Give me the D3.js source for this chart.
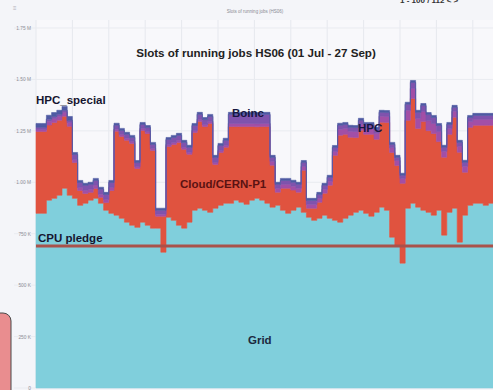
<!DOCTYPE html>
<html>
<head>
<meta charset="utf-8">
<script src="https://cdn.jsdelivr.net/npm/d3@7"></script>
<style>
  html, body { margin: 0; padding: 0; background: #f4f5f9; }
  svg { display: block; font-family: "Liberation Sans", Arial, sans-serif; }
</style>
</head>
<body>
<svg id="chart" width="493" height="390"></svg>
<script>
// Daily slots of running jobs, in thousands of HS06 (01 Jul onwards)
const days = d3.range(88);

const grid = [849, 849, 913, 922, 937, 971, 937, 922, 888, 898,
              913, 922, 898, 864, 849, 840, 825, 806, 791, 781,
              806, 791, 777, 777, 660, 830, 815, 791, 777, 806,
              864, 874, 864, 854, 874, 888, 898, 898, 913, 903,
              893, 913, 922, 913, 898, 879, 888, 864, 849, 864,
              879, 854, 830, 815, 825, 840, 825, 815, 806, 825,
              840, 854, 864, 849, 835, 854, 879, 864, 733, 694,
              607, 874, 898, 879, 864, 854, 840, 864, 743, 854,
              874, 709, 840, 888, 898, 898, 888, 898];

const cloud = [398, 398, 365, 369, 365, 350, 335, 174, 72, 48,
               38, 48, 29, 38, 111, 408, 398, 398, 398, 286,
               446, 446, 378, 58, 175, 344, 369, 403, 383, 330,
               378, 422, 407, 432, 213, 257, 272, 373, 358, 368,
               378, 358, 348, 358, 373, 204, 64, 107, 122, 98,
               73, 204, 44, 59, 78, 107, 161, 316, 423, 408,
               379, 364, 389, 384, 398, 355, 413, 427, 412, 388,
               388, 427, 509, 383, 431, 397, 397, 334, 379, 379,
               442, 437, 209, 379, 379, 379, 389, 379];

const hpc = [10, 10, 19, 19, 19, 19, 19, 15, 15, 15,
             15, 15, 15, 15, 15, 10, 10, 10, 10, 10,
             10, 10, 10, 10, 10, 10, 10, 10, 10, 10,
             10, 10, 10, 10, 10, 10, 10, 15, 15, 15,
             15, 15, 15, 15, 15, 19, 19, 19, 19, 19,
             19, 19, 19, 19, 19, 19, 19, 19, 29, 29,
             29, 29, 29, 29, 29, 29, 29, 29, 24, 24,
             24, 49, 49, 49, 49, 49, 49, 49, 29, 29,
             29, 29, 29, 29, 29, 29, 29, 29];

const boinc = [10, 10, 10, 10, 10, 10, 10, 24, 24, 24,
               24, 24, 24, 24, 24, 19, 19, 19, 19, 19,
               19, 19, 19, 19, 19, 24, 24, 24, 24, 24,
               24, 24, 24, 24, 24, 24, 24, 44, 44, 44,
               44, 44, 44, 44, 44, 19, 19, 19, 19, 19,
               19, 19, 19, 19, 19, 19, 19, 19, 19, 19,
               19, 19, 19, 19, 19, 19, 19, 19, 15, 15,
               15, 29, 29, 29, 29, 29, 29, 29, 19, 19,
               19, 19, 19, 19, 19, 19, 19, 19];

const hpcSpecial = [19, 19, 19, 19, 19, 19, 19, 10, 10, 10,
                    10, 10, 10, 10, 10, 10, 10, 10, 10, 10,
                    10, 10, 10, 10, 10, 10, 10, 10, 10, 10,
                    10, 10, 10, 10, 10, 10, 10, 10, 10, 10,
                    10, 10, 10, 10, 10, 10, 10, 10, 10, 10,
                    10, 10, 10, 10, 10, 10, 10, 10, 10, 10,
                    10, 10, 10, 10, 10, 10, 10, 10, 10, 10,
                    10, 10, 10, 10, 10, 10, 10, 10, 10, 10,
                    10, 10, 10, 10, 10, 10, 10, 10];

const cpuPledge = 690;

const seriesKeys = ["grid", "cloud", "hpc", "boinc", "hpcSpecial"];
const seriesColors = ["#80cfdc", "#e0533f", "#a24fa6", "#7f53ad", "#4f5aa3"];

const tickValues = [0, 250, 500, 750, 1000, 1250, 1500, 1750];
const tickLabels = ["0", "250 K", "500 K", "750 K", "1.00 M", "1.25 M", "1.50 M", "1.75 M"];

const svg = d3.select("#chart");
const W = 493, H = 390;
const plotLeft = 36, plotBottom = 388, plotTop = 20;

const x = d3.scaleLinear().domain([0, days.length]).range([plotLeft, 493.6]);
const y = d3.scaleLinear().domain([0, 1750]).range([plotBottom, 28]);

// page and plot backgrounds
svg.append("rect").attr("width", W).attr("height", H).attr("fill", "#f4f5f9");
svg.append("rect").attr("x", plotLeft).attr("y", plotTop)
  .attr("width", W - plotLeft).attr("height", plotBottom - plotTop)
  .attr("fill", "#f8f8fb");

// vertical guide lines, one per week
svg.append("g").selectAll("line")
  .data(d3.range(0, days.length + 1, 7))
  .join("line")
  .attr("x1", d => x(d)).attr("x2", d => x(d))
  .attr("y1", plotTop).attr("y2", plotBottom)
  .attr("stroke", "#e6e8ee").attr("stroke-width", 1);

// horizontal guide lines
svg.append("g").selectAll("line")
  .data(tickValues)
  .join("line")
  .attr("x1", 14).attr("x2", W)
  .attr("y1", d => y(d)).attr("y2", d => y(d))
  .attr("stroke", "#e9ebf0").attr("stroke-width", 1);

// header strip
svg.append("text").attr("x", 255).attr("y", 13).attr("text-anchor", "middle")
  .attr("font-size", 4.5).attr("fill", "#8a8a92")
  .text("Slots of running jobs (HS06)");
svg.append("text").attr("x", 13).attr("y", 10)
  .attr("font-size", 6).attr("fill", "#b0b0b8").text("≡");
svg.append("text").attr("x", 400).attr("y", 3)
  .attr("font-size", 8).attr("font-weight", "bold").attr("fill", "#333")
  .text("1 - 100 / 112  <  >");

// stacked step areas
const rows = days.map(i => ({
  day: i,
  grid: grid[i], cloud: cloud[i], hpc: hpc[i], boinc: boinc[i], hpcSpecial: hpcSpecial[i]
}));
// closing row so the last day spans its full width
rows.push(Object.assign({}, rows[rows.length - 1], { day: days.length }));

const stacked = d3.stack().keys(seriesKeys)(rows);
const area = d3.area()
  .curve(d3.curveStepAfter)
  .x(d => x(d.data.day))
  .y0(d => y(d[0]))
  .y1(d => y(d[1]));

svg.append("g").selectAll("path")
  .data(stacked)
  .join("path")
  .attr("d", area)
  .attr("fill", (d, i) => seriesColors[i])
  .attr("stroke", (d, i) => seriesColors[i])
  .attr("stroke-width", 0.6)
  .attr("stroke-linejoin", "miter");

// pledge line
svg.append("line")
  .attr("x1", plotLeft).attr("x2", W)
  .attr("y1", y(cpuPledge)).attr("y2", y(cpuPledge))
  .attr("stroke", "#a9524b").attr("stroke-width", 3);

// y axis
const yAxis = d3.axisLeft(y).tickValues(tickValues)
  .tickFormat((d, i) => tickLabels[i]).tickSize(0).tickPadding(0);
const ga = svg.append("g").attr("transform", "translate(31,0)").call(yAxis);
ga.select(".domain").remove();
ga.selectAll("text").attr("font-size", 4.8).attr("fill", "#8e8e96")
  .attr("font-family", "Liberation Sans, Arial, sans-serif");

// titles and series labels
svg.append("text").attr("x", 256).attr("y", 57).attr("text-anchor", "middle")
  .attr("font-size", 11.6).attr("font-weight", "bold").attr("fill", "#222")
  .text("Slots of running jobs HS06 (01 Jul - 27 Sep)");

const labels = [
  { t: "HPC_special", x: 36, y: 104, c: "#161630" },
  { t: "Boinc", x: 232, y: 117, c: "#161640" },
  { t: "HPC", x: 358, y: 132, c: "#161640" },
  { t: "Cloud/CERN-P1", x: 180, y: 188, c: "#5a1212" },
  { t: "CPU pledge", x: 38, y: 242, c: "#161630" },
  { t: "Grid", x: 248, y: 344, c: "#1c2a40" }
];
svg.append("g").selectAll("text")
  .data(labels)
  .join("text")
  .attr("x", d => d.x).attr("y", d => d.y)
  .attr("font-size", 11.5).attr("font-weight", "bold")
  .attr("fill", d => d.c)
  .text(d => d.t);

// side tab at the lower left corner
svg.append("rect").attr("x", -12).attr("y", 313).attr("width", 23).attr("height", 90)
  .attr("rx", 8).attr("fill", "#e98d8f").attr("stroke", "#4a4a4a").attr("stroke-width", 1);
</script>
</body>
</html>
